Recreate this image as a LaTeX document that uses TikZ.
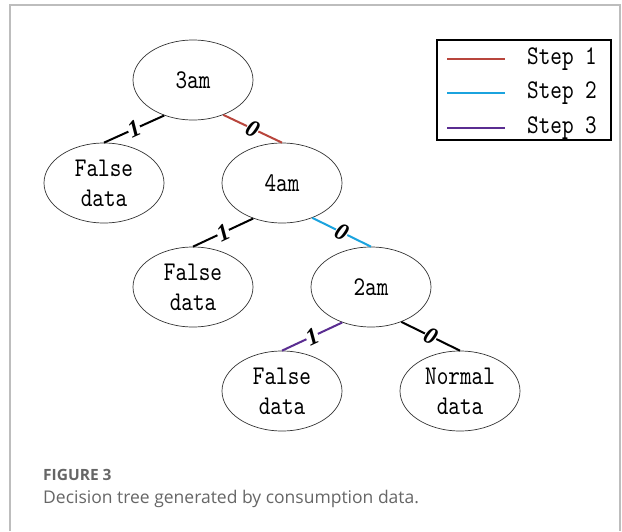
\documentclass[tikz,border=0pt]{standalone}
\usepackage{fontspec}
\setmainfont{Open Sans}
\newfontfamily\lblfont{Liberation Serif}
\newfontfamily\treefont{lmmono10-regular.otf}[FakeStretch=0.82]
\usetikzlibrary{shapes.geometric}
\definecolor{stepred}{HTML}{B8453C}
\definecolor{stepblue}{HTML}{1BA3DE}
\definecolor{steppurple}{HTML}{5A2D91}
\definecolor{framegray}{HTML}{BDBDBD}
\definecolor{captiongray}{HTML}{666666}

\begin{document}
\begin{tikzpicture}[x=1pt, y=-1pt,
    tnode/.style={ellipse, draw=black!80, line width=0.7pt, inner sep=0pt,
      minimum width=120pt, minimum height=80pt, align=center,
      font=\treefont\fontsize{27}{30}\selectfont},
    edge/.style={line width=2pt},
    lbl/.style={midway, sloped, fill=white, inner sep=0.2pt,
      font=\lblfont\bfseries\itshape\fontsize{24}{24}\selectfont}]
      \useasboundingbox (0,0) rectangle (622,531);
      \draw[framegray, line width=1.2pt] (10,531) -- (10,5) -- (620,5) -- (620,531);

      \node[tnode] (t3) at (193,80) {3am};
      \node[tnode] (fa) at (104,183) {False\\data};
      \node[tnode] (t4) at (282,183) {4am};
      \node[tnode] (fb) at (193,287) {False\\data};
      \node[tnode] (t2) at (371,287) {2am};
      \node[tnode] (fc) at (282,391) {False\\data};
      \node[tnode] (nd) at (460,391) {Normal\\data};

      \draw[edge] (t3.-129) -- (fa.north) node[lbl] {1};
      \draw[edge, stepred] (t3.-49) -- (t4.north) node[lbl, text=black] {0};
      \draw[edge] (t4.-129) -- (fb.north) node[lbl] {1};
      \draw[edge, stepblue] (t4.-49) -- (t2.north) node[lbl, text=black] {0};
      \draw[edge, steppurple] (t2.-129) -- (fc.north) node[lbl, text=black] {1};
      \draw[edge] (t2.-49) -- (nd.north) node[lbl] {0};

      % legend
      \node[draw, line width=1.5pt, minimum width=174pt, minimum height=100pt, inner sep=0pt] (key) at (524,90) {};
      \foreach \c/\y/\n in {stepred/59/1, stepblue/93/2, steppurple/128/3} {
        \draw[edge, \c] (447,\y) -- (505,\y);
        \node[font=\treefont\fontsize{27}{27}\selectfont] (s\n) at (562,\y) {Step \n};
      }

      \node[anchor=base west, text=captiongray, font=\bfseries\fontsize{15.5}{18}\selectfont, inner sep=0pt] (fig) at (43,480) {FIGURE 3};
      \node[anchor=base west, text=captiongray, font=\fontsize{17.5}{20}\selectfont, inner sep=0pt] (cap) at (43,503) {Decision tree generated by consumption data.};
\end{tikzpicture}
\end{document}
